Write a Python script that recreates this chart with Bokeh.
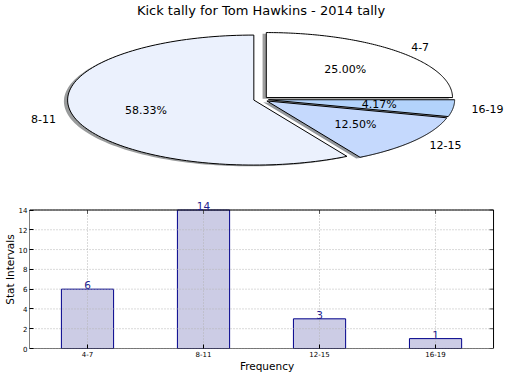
import numpy as np
from bokeh.plotting import figure
from bokeh.layouts import column
from bokeh.models import Range1d, FixedTicker
from bokeh.core.properties import value
from bokeh.embed import file_html
from bokeh.resources import INLINE

# ---- data ----
categories = ["4-7", "8-11", "12-15", "16-19"]
counts = [6, 14, 3, 1]
pie_colors = ["#ffffff", "#ebf1fd", "#c5d9fd", "#b3d3fb"]
explode = [0.04, 0.04, 0.04, 0.04]
title_text = "Kick tally for Tom Hawkins - 2014 tally"
y_ticks = [0, 2, 4, 6, 8, 10, 12, 14]
x_label = "Frequency"
y_label = "Stat Intervals"

FONT = "DejaVu Sans"
LEFT = 27          # shared left border (bar y-axis area)

# ---- pie (elliptical, like a non-equal-aspect matplotlib pie) ----
# frame covers x 27..504 px, y 0..190 px; pie centre at (259.5, 99) px, radii 187 x 65 px
RX, RY, CX, CY = 187.0, 65.0, 259.5, 98.9
PH = 190
xr = Range1d((LEFT - CX) / RX, (504 - CX) / RX)
yr = Range1d(-(PH - CY) / RY, CY / RY)
pie = figure(width=504, height=PH, output_backend="svg", toolbar_location=None,
             x_range=xr, y_range=yr, x_axis_type=None, y_axis_type=None,
             min_border_left=0, min_border_right=0, min_border_bottom=0, min_border_top=0)
pie.grid.visible = False
pie.outline_line_color = None

total = float(sum(counts))
start = 0.0
wedge_xs, wedge_ys, sh_xs, sh_ys, sh_cols = [], [], [], [], []
lab_x, lab_y, lab_t, lab_al = [], [], [], []
pct_x, pct_y, pct_t = [], [], []
for cat, c, col, e in zip(categories, counts, pie_colors, explode):
    frac = c / total
    t1 = start * 2 * np.pi
    t2 = (start + frac) * 2 * np.pi
    mid = (t1 + t2) / 2
    ox, oy = e * np.cos(mid), e * np.sin(mid)
    ts = np.linspace(t1, t2, 120)
    xs = [ox] + list(ox + np.cos(ts)) + [ox]
    ys = [oy] + list(oy + np.sin(ts)) + [oy]
    wedge_xs.append(xs)
    wedge_ys.append(ys)
    sh_xs.append([x - 0.02 for x in xs])
    sh_ys.append([y - 0.02 for y in ys])
    r, g, b = int(col[1:3], 16), int(col[3:5], 16), int(col[5:7], 16)
    sh_cols.append("#%02x%02x%02x" % (int(r * 0.3), int(g * 0.3), int(b * 0.3)))
    lab_x.append(ox + 1.1 * np.cos(mid))
    lab_y.append(oy + 1.1 * np.sin(mid))
    lab_t.append(cat)
    lab_al.append("left" if np.cos(mid) > 0 else "right")
    pct_x.append(ox + 0.6 * np.cos(mid))
    pct_y.append(oy + 0.6 * np.sin(mid))
    pct_t.append("%.2f%%" % (100 * frac))
    start += frac

pie.patches(sh_xs, sh_ys, fill_color=sh_cols, fill_alpha=0.55, line_color=None)
pie.patches(wedge_xs, wedge_ys, fill_color=pie_colors, line_color="black", line_width=1)
pie.text(x=lab_x, y=lab_y, text=lab_t, text_align=lab_al, text_baseline="middle",
         text_font=value(FONT), text_font_size="11px", text_color="black")
pie.text(x=pct_x, y=pct_y, text=pct_t, text_align="center", text_baseline="middle",
         text_font=value(FONT), text_font_size="11px", text_color="black")
# chart title, centred at the top of the page
pie.text(x=[0.0], y=[(CY - 10) / RY], text=[title_text], text_align="center",
         text_baseline="middle", text_font=value(FONT), text_font_size="13px",
         text_color="black")

# ---- bar chart ----
n = len(categories)
xpos = list(range(n))
px_per_x = (493 - LEFT) / n
x_end = n - 0.5 + (504 - 493) / px_per_x
BH, BOTTOM, TOPGAP = 184, 22, 20
px_per_y = (BH - BOTTOM - TOPGAP) / max(y_ticks)
y_end = max(y_ticks) + TOPGAP / px_per_y

bar = figure(width=504, height=BH, output_backend="svg", toolbar_location=None,
             x_range=Range1d(-0.5, x_end), y_range=Range1d(0, y_end),
             min_border_left=LEFT, min_border_right=0, min_border_top=0, min_border_bottom=BOTTOM)
bar.outline_line_color = None
bar.grid.visible = False

gx0 = [-0.5] * len(y_ticks)
gx1 = [n - 0.5] * len(y_ticks)
bar.vbar(x=xpos, top=counts, width=0.45, fill_color="#ccccE5",
         line_color="#00008b", line_width=1)
# dotted grid, drawn over the bars as in the original
bar.segment(x0=gx0, y0=y_ticks, x1=gx1, y1=y_ticks, line_color="#b4b4b4",
            line_dash="1 2", line_width=1)
bar.segment(x0=xpos, y0=[0] * n, x1=xpos, y1=[max(y_ticks)] * n, line_color="#b4b4b4",
            line_dash="1 2", line_width=1)
# inward tick marks on the right and top edges (4 px long)
tick_dx = 4.0 / px_per_x
tick_dy = 4.0 / px_per_y
bar.segment(x0=gx1, y0=y_ticks, x1=[n - 0.5 - tick_dx] * len(y_ticks), y1=y_ticks,
            line_color="#555555", line_width=1)
bar.segment(x0=xpos, y0=[max(y_ticks)] * n, x1=xpos, y1=[max(y_ticks) - tick_dy] * n,
            line_color="#555555", line_width=1)
bar.quad(left=[-0.5], right=[n - 0.5], bottom=[0], top=[max(y_ticks)],
         fill_color=None, line_color="black", line_width=1)
bar.text(x=xpos, y=counts, text=[str(v) for v in counts], text_align="center",
         text_baseline="bottom", text_font=value(FONT), text_font_size="10.5px",
         text_color="#1f1f8f")

bar.xaxis.ticker = FixedTicker(ticks=xpos)
bar.xaxis.major_label_overrides = {i: c for i, c in zip(xpos, categories)}
bar.yaxis.ticker = FixedTicker(ticks=y_ticks)
bar.xaxis.axis_label = x_label
bar.yaxis.axis_label = y_label
for ax in bar.xaxis + bar.yaxis:
    ax.axis_label_text_font = FONT
    ax.axis_label_text_font_size = "10.5px"
    ax.axis_label_text_font_style = "normal"
    ax.axis_label_text_color = "black"
    ax.axis_label_standoff = 0
    ax.major_label_text_font = FONT
    ax.major_label_text_font_size = "7px"
    ax.major_label_text_color = "black"
    ax.major_label_standoff = 2
    ax.major_tick_in = 4
    ax.major_tick_out = 0
    ax.minor_tick_in = 0
    ax.minor_tick_out = 0
    ax.axis_line_color = None
    ax.major_tick_line_color = "black"

p = column(pie, bar)
open("out.html", "w").write(file_html(p, INLINE))
